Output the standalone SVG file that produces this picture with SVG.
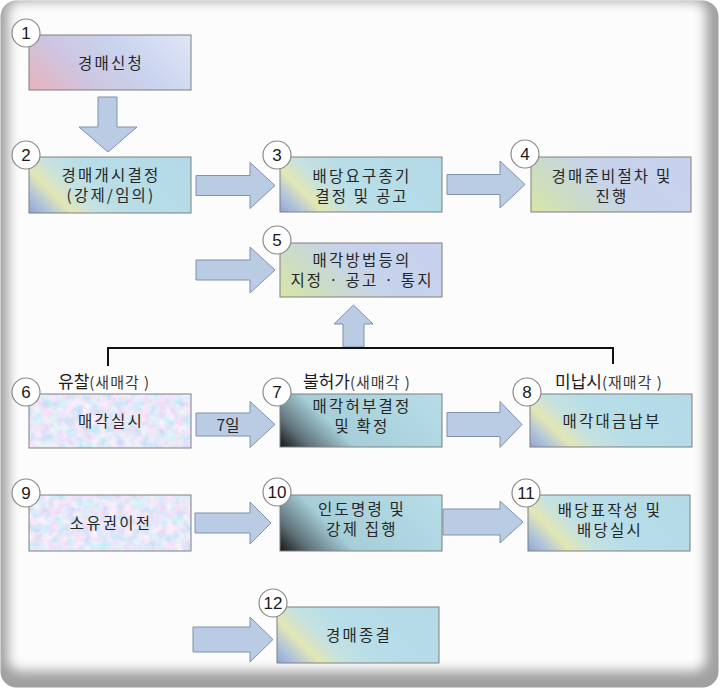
<svg xmlns="http://www.w3.org/2000/svg" width="720" height="688" viewBox="0 0 720 688">
<defs>
  <style>
    .box{stroke:#7f7f7f;stroke-width:1}
    .num{fill:#fff;stroke:#8a8a8a;stroke-width:1.2}
    .numt{font-family:"Liberation Sans","Noto Sans",sans-serif;font-size:17px;fill:#1a1a1a;text-anchor:middle}
    .t{font-family:"Noto Sans CJK KR","Noto Sans",sans-serif;font-size:15.5px;fill:#262626;text-anchor:middle;letter-spacing:2.2px}
    .arr{fill:#b9cce4;stroke:#7f93ab;stroke-width:1}
    .lblB{font-family:"Noto Sans CJK KR",sans-serif;font-size:17px;fill:#1a1a1a}
    .lblS{font-family:"Noto Sans CJK KR",sans-serif;font-size:15px;fill:#3a3a3a;letter-spacing:1px}
  </style>
  <clipPath id="frameClip"><rect x="0.5" y="0.5" width="718" height="687" rx="16"/></clipPath>
  <filter id="soft" x="-5%" y="-5%" width="110%" height="110%"><feGaussianBlur stdDeviation="6"/></filter>
  <linearGradient id="gPink" x1="0" y1="1" x2="1.2" y2="0.59">
    <stop offset="0" stop-color="#e9b2ba"/>
    <stop offset="0.3" stop-color="#cfc4e0"/>
    <stop offset="0.6" stop-color="#c9d3ee"/>
    <stop offset="1" stop-color="#dfe6f6"/>
  </linearGradient>
  <linearGradient id="gCyan" x1="0" y1="1" x2="1.2" y2="0.59">
    <stop offset="0" stop-color="#8fa6d3"/>
    <stop offset="0.1" stop-color="#b3c5da"/>
    <stop offset="0.2" stop-color="#e2e7b3"/>
    <stop offset="0.32" stop-color="#c6e1e0"/>
    <stop offset="0.5" stop-color="#b6dde8"/>
    <stop offset="1" stop-color="#b3dae6"/>
  </linearGradient>
  <linearGradient id="gLav" x1="0" y1="1" x2="1.2" y2="0.59">
    <stop offset="0" stop-color="#d8e6a6"/>
    <stop offset="0.25" stop-color="#cbdcc6"/>
    <stop offset="0.5" stop-color="#c6d3ea"/>
    <stop offset="1" stop-color="#c8d1ef"/>
  </linearGradient>
  <linearGradient id="gDark" x1="0" y1="1" x2="1.2" y2="0.59">
    <stop offset="0" stop-color="#151515"/>
    <stop offset="0.14" stop-color="#5f7178"/>
    <stop offset="0.35" stop-color="#a6ced9"/>
    <stop offset="1" stop-color="#b6dde8"/>
  </linearGradient>
  <filter id="marble" x="0" y="0" width="100%" height="100%">
    <feTurbulence type="fractalNoise" baseFrequency="0.12" numOctaves="4" seed="7" result="n"/>
    <feColorMatrix in="n" type="matrix" values="0.8 0 0 0 0.39  0 0.35 0 0 0.63  0 0 0.2 0 0.84  0 0 0 0 1" result="c"/>
    <feComposite in="c" in2="SourceGraphic" operator="in"/>
  </filter>
</defs>

<rect width="720" height="688" fill="#ffffff"/>
<g id="frame" clip-path="url(#frameClip)">
  <rect width="720" height="688" fill="#a0a0a0"/>
  <rect x="8" y="1" width="698" height="670" rx="12" fill="#fcfcfc" filter="url(#soft)"/>
</g>

<g id="connectors">
  <path class="arr" d="M98,97 H117 V127 H137 L108,152 L79,127 H98 Z"/>
  <path class="arr" d="M196,175.5 H250 V162.5 L275,185.5 L250,208.5 V195.5 H196 Z"/>
  <path class="arr" d="M447,174.5 H500 V161 L525,184.5 L500,208 V194.5 H447 Z"/>
  <path class="arr" d="M196,260 H250 V247 L275,270 L250,293 V280 H196 Z"/>
  <path class="arr" d="M343,347 V324 H334 L353.5,305 L373,324 H364 V347 Z"/>
  <path d="M108,366 V348 H613 V364" fill="none" stroke="#111" stroke-width="2"/>
  <path class="arr" d="M196,413 H250 V401.5 L275,424.5 L250,447.5 V436 H196 Z"/>
  <text class="t" x="228" y="431" style="letter-spacing:0">7일</text>
  <path class="arr" d="M447,412.5 H500 V401.5 L522,424.5 L500,447.5 V436.5 H447 Z"/>
  <path class="arr" d="M195,513 H250 V502 L271,523 L250,544 V533 H195 Z"/>
  <path class="arr" d="M443,509 H500 V501 L523,522 L500,543 V535 H443 Z"/>
  <path class="arr" d="M193,627 H250 V617 L273,639.5 L250,662 V652 H193 Z"/>
  <text x="58" y="388"><tspan class="lblB">유찰</tspan><tspan class="lblS">(새매각 )</tspan></text>
  <text x="303" y="388"><tspan class="lblB">불허가</tspan><tspan class="lblS">(새매각 )</tspan></text>
  <text x="555" y="388"><tspan class="lblB">미납시</tspan><tspan class="lblS">(재매각 )</tspan></text>
</g>

<g id="node1">
  <rect class="box" x="29" y="35" width="162" height="55" fill="url(#gPink)"/>
  <circle class="num" cx="26" cy="33" r="14"/><text class="numt" x="26" y="39">1</text>
  <text class="t" x="111" y="69">경매신청</text>
</g>
<g id="node2">
  <rect class="box" x="29" y="157" width="162" height="56" fill="url(#gCyan)"/>
  <circle class="num" cx="26" cy="155" r="14"/><text class="numt" x="26" y="161">2</text>
  <text class="t" x="111" y="181">경매개시결정</text>
  <text class="t" x="111" y="201">(강제/임의)</text>
</g>
<g id="node3">
  <rect class="box" x="280" y="157" width="162" height="55" fill="url(#gCyan)"/>
  <circle class="num" cx="277" cy="155" r="14"/><text class="numt" x="277" y="161">3</text>
  <text class="t" x="362" y="182">배당요구종기</text>
  <text class="t" x="362" y="202">결정 및 공고</text>
</g>
<g id="node4">
  <rect class="box" x="531" y="157" width="160" height="55" fill="url(#gLav)"/>
  <circle class="num" cx="525" cy="154" r="14"/><text class="numt" x="525" y="160">4</text>
  <text class="t" x="612" y="182">경매준비절차 및</text>
  <text class="t" x="612" y="202">진행</text>
</g>
<g id="node5">
  <rect class="box" x="280" y="243" width="162" height="54" fill="url(#gLav)"/>
  <circle class="num" cx="277" cy="240" r="14"/><text class="numt" x="277" y="246">5</text>
  <text class="t" x="362" y="266">매각방법등의</text>
  <text class="t" x="362" y="286">지정 · 공고 · 통지</text>
</g>
<g id="node6">
  <rect x="29" y="394" width="162" height="54" fill="#c8d2f0" filter="url(#marble)"/>
  <rect class="box" x="29" y="394" width="162" height="54" fill="none"/>
  <circle class="num" cx="26" cy="392" r="14"/><text class="numt" x="26" y="398">6</text>
  <text class="t" x="111" y="427">매각실시</text>
</g>
<g id="node7">
  <rect class="box" x="280" y="394" width="162" height="53" fill="url(#gDark)"/>
  <circle class="num" cx="277" cy="392" r="14"/><text class="numt" x="277" y="398">7</text>
  <text class="t" x="362" y="412">매각허부결정</text>
  <text class="t" x="362" y="432">및 확정</text>
</g>
<g id="node8">
  <rect class="box" x="530" y="394" width="162" height="53" fill="url(#gCyan)"/>
  <circle class="num" cx="527" cy="392" r="14"/><text class="numt" x="527" y="398">8</text>
  <text class="t" x="612" y="427">매각대금납부</text>
</g>
<g id="node9">
  <rect x="29" y="495" width="162" height="56" fill="#c8d2f0" filter="url(#marble)"/>
  <rect class="box" x="29" y="495" width="162" height="56" fill="none"/>
  <circle class="num" cx="26" cy="493" r="14"/><text class="numt" x="26" y="499">9</text>
  <text class="t" x="111" y="529">소유권이전</text>
</g>
<g id="node10">
  <rect class="box" x="280" y="495" width="162" height="56" fill="url(#gDark)"/>
  <circle class="num" cx="277" cy="492" r="14"/><text class="numt" x="277" y="498">10</text>
  <text class="t" x="362" y="515">인도명령 및</text>
  <text class="t" x="362" y="535">강제 집행</text>
</g>
<g id="node11">
  <rect class="box" x="528" y="495" width="162" height="56" fill="url(#gCyan)"/>
  <circle class="num" cx="526" cy="493" r="14"/><text class="numt" x="526" y="499">11</text>
  <text class="t" x="610" y="516">배당표작성 및</text>
  <text class="t" x="610" y="536">배당실시</text>
</g>
<g id="node12">
  <rect class="box" x="277" y="607" width="162" height="56" fill="url(#gCyan)"/>
  <circle class="num" cx="273" cy="603" r="14"/><text class="numt" x="273" y="609">12</text>
  <text class="t" x="359" y="641">경매종결</text>
</g>
</svg>
